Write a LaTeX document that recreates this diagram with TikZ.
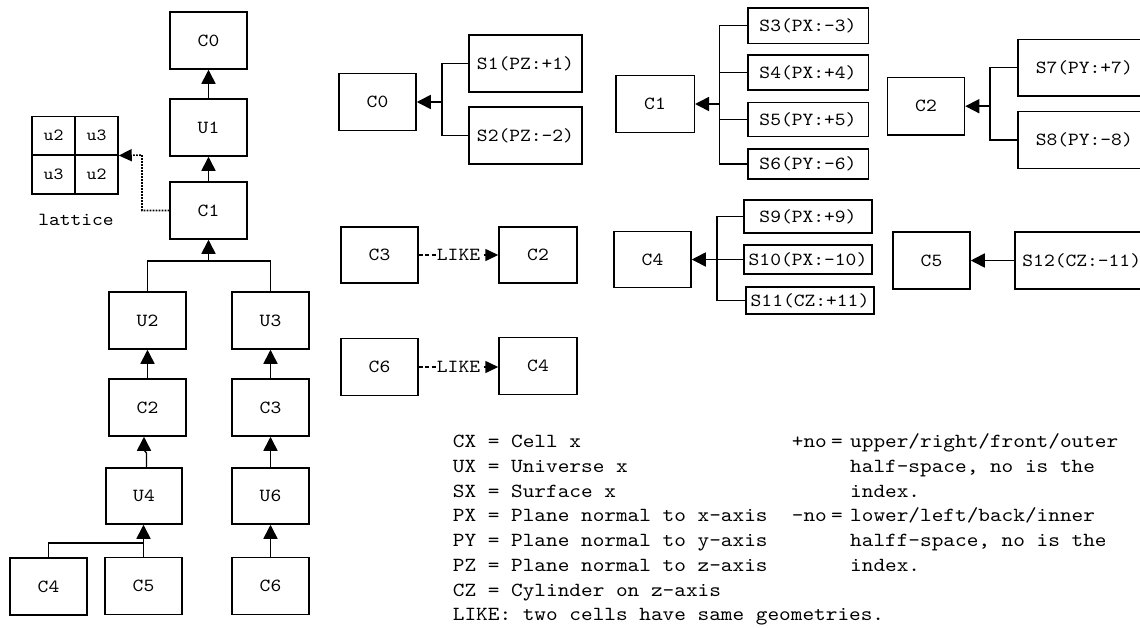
\documentclass[tikz,border=0pt]{standalone}
\usepackage{fontspec}
\usetikzlibrary{arrows.meta}
\newfontfamily\monofont{lmmono10-regular}[Extension=.otf, FakeStretch=1.11]
\begin{document}
\begin{tikzpicture}[x=1pt,y=-1pt,
  box/.style={draw, line width=1.5pt, inner sep=0pt, minimum width=77pt, minimum height=57pt,
              font=\monofont\fontsize{18.5}{20}\selectfont},
  sbox/.style={box, minimum width=120.5pt},
  cell/.style={draw, line width=1.5pt, inner sep=0pt, minimum width=43pt, minimum height=38.5pt,
              font=\monofont\fontsize{17}{19}\selectfont},
  conn/.style={line width=1.3pt},
  arr/.style={line width=1.6pt, -{Triangle[length=14pt,width=14pt]}},
  dotarr/.style={line width=1.6pt, dash pattern=on 1.6pt off 1.4pt, -{Triangle[length=13pt,width=12pt]}},
  like/.style={line width=1.6pt, dash pattern=on 4pt off 2.5pt, -{Triangle[length=13pt,width=12pt]}},
  likelab/.style={fill=white, inner sep=1pt, font=\monofont\fontsize{18.5}{20}\selectfont},
  lab/.style={inner sep=0pt, font=\monofont\fontsize{18.5}{20}\selectfont},
  leg/.style={inner sep=0pt, anchor=base west, font=\monofont\fontsize{20}{24}\selectfont\frenchspacing}
]
\useasboundingbox (0,0) rectangle (1140,627);
\clip (0,0) rectangle (1140,627);

% ---------------- left tree ----------------
\node[box] (lC0) at (208.5,40.5) {C0};
\node[box] (lU1) at (208.5,127.5) {U1};
\node[box] (lC1) at (208.5,210.5) {C1};
\node[box] (lU2) at (147.5,320.5) {U2};
\node[box] (lU3) at (270.5,320.5) {U3};
\node[box] (lC2) at (147.5,407.5) {C2};
\node[box] (lC3) at (270.5,407.5) {C3};
\node[box, minimum width=76pt, minimum height=56pt] (lU4) at (144,496) {U4};
\node[box, minimum height=56pt] (lU6) at (270.5,496) {U6};
\node[box] (lC4) at (48.5,586.5) {C4};
\node[box] (lC5) at (143.5,586) {C5};
\node[box] (lC6) at (270.5,586) {C6};

\draw[arr] (lC1) -- (lU1);
\draw[arr] (lU1) -- (lC0);
\coordinate (b5) at (208.5,261);
\draw[conn] (lU2.north) |- (b5) -| (lU3.north);
\draw[arr] (b5) -- (lC1.south);
\draw[arr] (lC2) -- (lU2);
\draw[arr] (lC3) -- (lU3);
\coordinate (j1) at (146.5,453);
\coordinate (j2) at (144,450);
\draw[conn] (lU4.north -| j1) -- (j1) -- (j2);
\draw[arr] (j2) -- (lC2.south -| j2);
\draw[arr] (lU6) -- (lC3);
\draw[arr] (lC6) -- (lU6);
\coordinate (b6) at (143.5,543);
\draw[conn] (lC4.north) |- (b6);
\draw[arr] (lC5.north) -- (lC5.north |- lU4.south);

% lattice
\node[cell] (t11) at (53.5,135.5) {u2};
\node[cell] (t12) at (96.5,135.5) {u3};
\node[cell] (t21) at (53.5,174.5) {u3};
\node[cell] (t22) at (96.5,174.5) {u2};
\node[lab] (latlab) at (76,220) {lattice};
\coordinate (lb) at (142,155);
\draw[dotarr] (lC1.west) -| (lb) -- (t12.south east);

% ---------------- C0 group ----------------
\node[box] (mC0) at (377.5,102) {C0};
\node[box, minimum width=113pt] (S1) at (525.5,63.5) {S1(PZ:+1)};
\node[box, minimum width=113pt] (S2) at (525.5,135.5) {S2(PZ:-2)};
\coordinate (b0) at (442,102);
\draw[conn] (S1.west) -| (b0) |- (S2.west);
\draw[arr] (b0) -- (mC0.east);

% ---------------- C1 group ----------------
\node[box, minimum width=78.5pt] (mC1) at (655,104) {C1};
\node[sbox, minimum height=35.5pt] (S3) at (808,25.5) {S3(PX:-3)};
\node[sbox, minimum height=35pt] (S4) at (808,72.5) {S4(PX:+4)};
\node[sbox, minimum height=34pt] (S5) at (808,119.7) {S5(PY:+5)};
\node[sbox, minimum height=30pt] (S6) at (808,164) {S6(PY:-6)};
\coordinate (b1) at (719.5,104);
\draw[conn] (S3.west) -| (b1) |- (S6.west);
\draw[conn] (S4.west) -- (S4.west -| b1);
\draw[conn] (S5.west) -- (S5.west -| b1);
\draw[arr] (b1) -- (mC1.east);

% ---------------- C2 group ----------------
\node[box, minimum height=57.5pt] (mC2) at (926,106.2) {C2};
\node[box, anchor=west, minimum height=56.7pt, text width=140pt, inner xsep=17.6pt, align=left] (S7) at (1017.4,67.7) {S7(PY:+7)};
\node[box, anchor=west, minimum height=56.7pt, text width=140pt, inner xsep=17.6pt, align=left] (S8) at (1017.4,140) {S8(PY:-8)};
\coordinate (b2) at (990,106.2);
\draw[conn] (S7.west) -| (b2) |- (S8.west);
\draw[arr] (b2) -- (mC2.east);

% ---------------- LIKE relations ----------------
\node[box, minimum height=56pt] (mC3) at (379.5,255) {C3};
\node[box, minimum width=78pt, minimum height=56pt] (mC2b) at (538,255) {C2};
\draw[like] (mC3) -- node[likelab] (lk1) {LIKE} (mC2b);
\node[box] (mC6) at (379.5,367) {C6};
\node[box, minimum width=78pt] (mC4b) at (538,366) {C4};
\draw[like] (mC6.east) -- node[likelab] (lk2) {LIKE} (mC6.east -| mC4b.west);

% ---------------- C4 group ----------------
\node[box, minimum height=56pt] (mC4) at (652.5,259.5) {C4};
\node[box, minimum width=128pt, minimum height=33pt] (S9) at (808,216.5) {S9(PX:+9)};
\node[box, minimum width=128pt, minimum height=29pt] (S10) at (808,259.5) {S10(PX:-10)};
\node[box, minimum width=128pt, minimum height=27pt] (S11) at (810,300.5) {S11(CZ:+11)};
\coordinate (b4) at (717,259.5);
\draw[conn] (S9.west) -| (b4) |- (S11.west);
\draw[conn] (S10.west) -- (b4);
\draw[arr] (b4) -- (mC4.east);

% ---------------- C5 group ----------------
\node[box] (mC5) at (931.5,260.5) {C5};
\node[box, anchor=west, minimum height=57pt, text width=140pt, inner xsep=7.7pt, align=left] (S12) at (1014,260.5) {S12(CZ:-11)};
\draw[arr] (S12.west) -- (mC5.east);

% ---------------- legend ----------------
\foreach \t [count=\i from 0] in {{CX = Cell x},{UX = Universe x},{SX = Surface x},{PX = Plane normal to x-axis},{PY = Plane normal to y-axis},{PZ = Plane normal to z-axis},{CZ = Cylinder on z-axis},{LIKE: two cells have same geometries.}}
  \node[leg] (legA\i) at (452.7,{447.7+24.75*\i}) {\t};
\node[leg] (legP) at (791.7,447.7) {+no};
\node[leg, anchor=base] (legPe) at (837,447.7) {=};
\node[leg] (legM) at (791.7,{447.7+3*24.75}) {-no};
\node[leg, anchor=base] (legMe) at (837,{447.7+3*24.75}) {=};
\foreach \t [count=\i from 0] in {{upper/right/front/outer},{half-space, no is the},{index.},{lower/left/back/inner},{halff-space, no is the},{index.}}
  \node[leg] (legB\i) at (850,{447.7+24.75*\i}) {\t};
\end{tikzpicture}
\end{document}
